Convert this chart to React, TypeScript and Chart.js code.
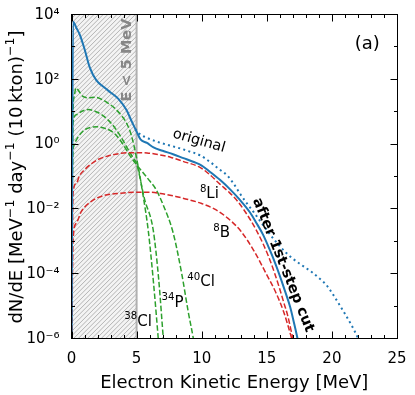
import React, { useEffect, useRef } from 'react';
import { Chart, registerables } from 'chart.js';

Chart.register(...registerables);

const FONT_FAMILY = '"DejaVu Sans", "Liberation Sans", sans-serif';

// ---- data: electron kinetic energy (MeV) and dN/dE ----
const afterCutE = [0, 0.12, 0.4, 0.65, 1.0, 1.4, 1.9, 2.5, 3.0, 3.6, 4.2, 4.65, 5.0, 5.3, 5.8, 6.3, 7.0, 7.8, 8.6, 9.4, 10.0, 10.6, 11.4, 12.2, 12.9, 13.7, 14.2, 14.7, 15.2, 15.7, 16.0, 16.4, 16.8, 17.1, 17.35, 17.5];
const afterCutN = [1e-7, 5800, 3550, 2240, 832, 224, 91, 55, 38, 24, 11.2, 4.6, 2.35, 1.35, 1.05, 0.76, 0.6, 0.47, 0.355, 0.27, 0.21, 0.138, 0.076, 0.038, 0.019, 7.6e-3, 3.55e-3, 1.58e-3, 5.6e-4, 1.78e-4, 8.3e-5, 2.8e-5, 8.9e-6, 2.8e-6, 1e-6, 5e-7];

const originalE = [4.9, 5.3, 5.8, 6.5, 7.3, 8.1, 8.9, 9.9, 10.7, 11.4, 12.0, 12.5, 13.0, 13.5, 14.0, 14.5, 15.0, 15.5, 16.0, 16.5, 17.0, 17.5, 18.0, 18.5, 19.0, 19.5, 20.0, 20.5, 21.0, 21.5, 22.0, 22.3];
const originalN = [2.82, 1.9, 1.51, 1.17, 0.93, 0.76, 0.6, 0.43, 0.26, 0.155, 0.1, 0.054, 0.0263, 0.0138, 7.6e-3, 4.0e-3, 2.14e-3, 1.17e-3, 6.8e-4, 4.2e-4, 2.8e-4, 2.0e-4, 1.45e-4, 1.05e-4, 7.1e-5, 4.7e-5, 2.5e-5, 1.2e-5, 5.6e-6, 2.5e-6, 1e-6, 5e-7];

const li8E = [0, 0.12, 0.37, 0.6, 1.0, 1.5, 2.0, 2.8, 3.8, 4.8, 5.8, 6.8, 7.6, 8.5, 9.9, 10.6, 11.4, 12.1, 12.8, 13.7, 14.2, 14.7, 15.2, 15.6, 16.0, 16.3, 16.6, 17.0, 17.2];
const li8N = [1e-7, 0.0295, 0.059, 0.1, 0.155, 0.234, 0.316, 0.417, 0.5, 0.525, 0.513, 0.447, 0.38, 0.288, 0.182, 0.112, 0.056, 0.0316, 0.0158, 4.7e-3, 2.1e-3, 8.3e-4, 2.8e-4, 1e-4, 3.2e-5, 1.26e-5, 5e-6, 1e-6, 5e-7];

const b8E = [0, 0.12, 0.37, 0.75, 1.5, 2.5, 3.8, 5.0, 6.0, 7.0, 8.0, 9.0, 10.0, 11.0, 12.0, 13.0, 14.0, 15.0, 15.7, 16.3, 16.9, 17.1];
const b8N = [1e-7, 1.05e-3, 3.5e-3, 7.9e-3, 0.0162, 0.0251, 0.0295, 0.0316, 0.0316, 0.0282, 0.0234, 0.0186, 0.0141, 9.5e-3, 5e-3, 2e-3, 5e-4, 8.9e-5, 2.5e-5, 6.3e-6, 1e-6, 5e-7];

const cl38E = [0, 0.1, 0.2, 0.35, 0.6, 0.9, 1.3, 1.8, 2.3, 2.8, 3.3, 3.8, 4.2, 4.6, 5.0, 5.5, 5.9, 6.3, 6.66, 6.8];
const cl38N = [1e-7, 6.3, 28, 52, 40, 28, 26, 27, 23.4, 17.8, 12.6, 7.6, 4.5, 1.78, 0.355, 0.025, 2e-3, 5e-5, 1e-6, 2e-7];

const p34E = [0, 0.1, 0.4, 0.8, 1.3, 1.8, 2.3, 2.8, 3.3, 3.8, 4.3, 4.7, 5.0, 5.6, 6.28, 6.7, 7.05, 7.2];
const p34N = [1e-7, 4.0, 7.9, 10, 11.2, 10, 7.9, 5.4, 3.2, 1.6, 0.71, 0.38, 0.24, 0.02, 2.1e-3, 6.3e-5, 1e-6, 2e-7];

const cl40E = [0, 0.08, 0.15, 0.5, 1.0, 1.5, 2.0, 2.5, 3.0, 3.5, 4.0, 4.5, 4.9, 5.5, 6.0, 6.5, 7.0, 7.8, 8.46, 8.97, 9.35, 9.5];
const cl40N = [1e-7, 0.316, 0.79, 1.58, 2.63, 3.16, 3.3, 3.0, 2.5, 1.7, 0.89, 0.42, 0.25, 0.126, 0.071, 0.038, 0.014, 1.8e-3, 1e-4, 6.3e-6, 1e-6, 4e-7];

// ---- axes ----
const xMajorTicks = [0, 5, 10, 15, 20, 25];
const xMinorTicks = [1, 2, 3, 4, 6, 7, 8, 9, 11, 12, 13, 14, 16, 17, 18, 19, 21, 22, 23, 24];
const yDecades = [-6, -5, -4, -3, -2, -1, 0, 1, 2, 3, 4];
const yLabelledDecades = [-6, -4, -2, 0, 2, 4];
const cutRegion = [0, 5];

// ---- text ----
const xTitle = 'Electron Kinetic Energy [MeV]';
const yTitleParts = [
  { t: 'dN/dE [MeV' }, { t: '\u22121', sup: true }, { t: ' day' }, { t: '\u22121', sup: true },
  { t: ' (10\u2009kton)' }, { t: '\u22121', sup: true }, { t: ']' },
];
const isotopeTags = [
  { mass: '8', name: 'Li', x: 9.86, y: 0.0205 },
  { mass: '8', name: 'B', x: 10.88, y: 1.31e-3 },
  { mass: '40', name: 'Cl', x: 8.89, y: 4.03e-5 },
  { mass: '34', name: 'P', x: 6.92, y: 9.2e-6 },
  { mass: '38', name: 'Cl', x: 4.05, y: 2.43e-6 },
];
const originalTag = { text: 'original', x: 9.79, y: 1.2, angle: 16 };
const afterCutTag = { text: 'after 1st-step cut', x: 16.25, y: 1.79e-4, angle: 68 };
const cutTag = { text: 'E < 5 MeV', x: 4.6, y: 380 };
const panelTag = { text: '(a)', x: 22.72, y: 1186 };

const SUP: Record<string, string> = { '0': '\u2070', '1': '\u00b9', '2': '\u00b2', '3': '\u00b3', '4': '\u2074', '5': '\u2075', '6': '\u2076', '7': '\u2077', '8': '\u2078', '9': '\u2079', '-': '\u207b' };
const supStr = (s: string) => s.split('').map((c) => SUP[c] ?? c).join('');
const pts = (xs: number[], ys: number[]) => xs.map((x, i) => ({ x, y: ys[i] }));

type Seg = { t: string; sup?: boolean };
function drawRich(ctx: CanvasRenderingContext2D, segs: Seg[], size: number, weight: string, x: number, y: number, angleDeg: number, align: 'left' | 'center', supScale = 0.7, raise = 0.42) {
  ctx.save();
  ctx.translate(x, y);
  ctx.rotate((angleDeg * Math.PI) / 180);
  ctx.textAlign = 'left';
  ctx.textBaseline = 'alphabetic';
  ctx.fillStyle = '#000';
  const fontFor = (s: Seg) => `${weight} ${s.sup ? size * supScale : size}px ${FONT_FAMILY}`;
  const widths = segs.map((s) => { ctx.font = fontFor(s); return ctx.measureText(s.t).width; });
  const total = widths.reduce((a, b) => a + b, 0);
  let cx = align === 'center' ? -total / 2 : 0;
  segs.forEach((s, i) => {
    ctx.font = fontFor(s);
    ctx.fillText(s.t, cx, s.sup ? -size * raise : 0);
    cx += widths[i];
  });
  ctx.restore();
}

const decorPlugin = {
  id: 'decor',
  beforeDatasetsDraw(chart: any) {
    const { ctx, chartArea: ca, scales } = chart;
    const xs = scales.x;
    const ys = scales.y;
    const x0 = xs.getPixelForValue(cutRegion[0]);
    const x1 = xs.getPixelForValue(cutRegion[1]);
    ctx.save();
    ctx.beginPath();
    ctx.rect(x0, ca.top, x1 - x0, ca.bottom - ca.top);
    ctx.clip();
    ctx.fillStyle = '#f4f4f4';
    ctx.fillRect(x0, ca.top, x1 - x0, ca.bottom - ca.top);
    ctx.strokeStyle = '#a6a6a6';
    ctx.lineWidth = 0.85;
    const h = ca.bottom - ca.top;
    ctx.beginPath();
    for (let s = x0 - h; s < x1 + 5; s += 4.6) {
      ctx.moveTo(s, ca.bottom);
      ctx.lineTo(s + h, ca.top);
    }
    ctx.stroke();
    ctx.restore();
    ctx.save();
    ctx.strokeStyle = '#b0b0b0';
    ctx.lineWidth = 2;
    ctx.beginPath();
    ctx.moveTo(x1, ca.top);
    ctx.lineTo(x1, ca.bottom);
    ctx.stroke();
    // E < 5 MeV
    ctx.translate(xs.getPixelForValue(cutTag.x), ys.getPixelForValue(cutTag.y));
    ctx.rotate(-Math.PI / 2);
    ctx.font = `bold 14.5px ${FONT_FAMILY}`;
    ctx.fillStyle = '#878787';
    ctx.textAlign = 'center';
    ctx.textBaseline = 'alphabetic';
    ctx.fillText(cutTag.text, 0, 0);
    ctx.restore();
  },
  afterDatasetsDraw(chart: any) {
    const { ctx, chartArea: ca, scales } = chart;
    const xs = scales.x;
    const ys = scales.y;
    const L = Math.floor(ca.left) + 0.5;
    const R = Math.floor(ca.right) + 0.5;
    const T = Math.floor(ca.top) + 0.5;
    const B = Math.floor(ca.bottom) + 0.5;
    ctx.save();
    ctx.strokeStyle = '#000';
    ctx.lineWidth = 1;
    ctx.strokeRect(L, T, R - L, B - T);
    ctx.beginPath();
    const xTick = (v: number, len: number) => {
      const p = Math.round(xs.getPixelForValue(v)) + 0.5;
      ctx.moveTo(p, B); ctx.lineTo(p, B - len);
      ctx.moveTo(p, T); ctx.lineTo(p, T + len);
    };
    xMajorTicks.forEach((v) => xTick(v, 7));
    xMinorTicks.forEach((v) => xTick(v, 3.5));
    yDecades.forEach((e) => {
      const len = yLabelledDecades.includes(e) ? 7 : 3.5;
      const p = Math.round(ys.getPixelForValue(Math.pow(10, e))) + 0.5;
      ctx.moveTo(L, p); ctx.lineTo(L + len, p);
      ctx.moveTo(R, p); ctx.lineTo(R - len, p);
    });
    ctx.stroke();
    ctx.restore();

    // axis titles
    ctx.save();
    ctx.fillStyle = '#000';
    ctx.font = `18px ${FONT_FAMILY}`;
    ctx.textAlign = 'center';
    ctx.textBaseline = 'alphabetic';
    ctx.fillText(xTitle, (ca.left + ca.right) / 2, 388);
    ctx.restore();
    drawRich(ctx, yTitleParts, 18, 'normal', 21.5, (ca.top + ca.bottom) / 2 + 1, -90, 'center');

    // isotope tags
    isotopeTags.forEach((tag) => {
      drawRich(ctx, [{ t: tag.mass, sup: true }, { t: tag.name }], 15, 'normal', xs.getPixelForValue(tag.x), ys.getPixelForValue(tag.y), 0, 'left', 0.68, 0.43);
    });

    // rotated curve tags
    const centerText = (txt: string, x: number, y: number, ang: number, font: string) => {
      ctx.save();
      ctx.translate(x, y);
      ctx.rotate((ang * Math.PI) / 180);
      ctx.font = font;
      ctx.fillStyle = '#000';
      ctx.textAlign = 'center';
      ctx.textBaseline = 'middle';
      ctx.fillText(txt, 0, 0);
      ctx.restore();
    };
    centerText(originalTag.text, xs.getPixelForValue(originalTag.x), ys.getPixelForValue(originalTag.y), originalTag.angle, `14.5px ${FONT_FAMILY}`);
    centerText(afterCutTag.text, xs.getPixelForValue(afterCutTag.x), ys.getPixelForValue(afterCutTag.y), afterCutTag.angle, `bold 14.5px ${FONT_FAMILY}`);
    centerText(panelTag.text, xs.getPixelForValue(panelTag.x), ys.getPixelForValue(panelTag.y), 0, `18px ${FONT_FAMILY}`);
  },
};

const dash = [5.5, 2.4];

export default function App() {
  const ref = useRef<HTMLCanvasElement>(null);
  useEffect(() => {
    const canvas = ref.current;
    if (!canvas) return;
    Chart.defaults.font.family = FONT_FAMILY;
    const chart = new Chart(canvas, {
      type: 'line',
      data: {
        datasets: [
          { label: 'after 1st-step cut', data: pts(afterCutE, afterCutN), borderColor: '#1f77b4', borderWidth: 2, clip: 0 },
          { label: 'original', data: pts(originalE, originalN), borderColor: '#1f77b4', borderWidth: 2, borderDash: [2, 3.3], borderCapStyle: 'butt', clip: 0 },
          { label: '8Li', data: pts(li8E, li8N), borderColor: '#d62728', borderWidth: 1.5, borderDash: dash, clip: 0 },
          { label: '8B', data: pts(b8E, b8N), borderColor: '#d62728', borderWidth: 1.5, borderDash: dash, clip: 0 },
          { label: '38Cl', data: pts(cl38E, cl38N), borderColor: '#2ca02c', borderWidth: 1.5, borderDash: dash, clip: 0 },
          { label: '34P', data: pts(p34E, p34N), borderColor: '#2ca02c', borderWidth: 1.5, borderDash: dash, clip: 0 },
          { label: '40Cl', data: pts(cl40E, cl40N), borderColor: '#2ca02c', borderWidth: 1.5, borderDash: dash, clip: 0 },
        ] as any,
      },
      options: {
        responsive: false,
        animation: false,
        devicePixelRatio: 1,
        layout: { padding: { left: 0, right: 18, top: 14, bottom: 0 } },
        plugins: { legend: { display: false }, tooltip: { enabled: false } },
        elements: { point: { radius: 0 }, line: { cubicInterpolationMode: 'monotone', fill: false } },
        scales: {
          x: {
            type: 'linear', min: 0, max: 25,
            grid: { display: false }, border: { display: false },
            ticks: { font: { family: FONT_FAMILY, size: 15 }, color: '#000', padding: 4, maxRotation: 0, autoSkip: false },
            afterBuildTicks: (a: any) => { a.ticks = xMajorTicks.map((v) => ({ value: v })); },
            afterFit: (a: any) => { a.height = 57; },
          },
          y: {
            type: 'logarithmic', min: 1e-6, max: 1e4,
            grid: { display: false }, border: { display: false },
            ticks: {
              font: { family: FONT_FAMILY, size: 15 }, color: '#000', padding: 4, autoSkip: false, labelOffset: 1,
              callback: (v: any) => {
                const e = Math.round(Math.log10(Number(v)));
                return yLabelledDecades.includes(e) ? '10' + supStr(String(e)) : '';
              },
            },
            afterBuildTicks: (a: any) => { a.ticks = yDecades.map((e) => ({ value: Math.pow(10, e) })); },
            afterFit: (a: any) => { a.width = 71.5; },
          },
        },
      } as any,
      plugins: [decorPlugin],
    });
    return () => chart.destroy();
  }, []);
  return (
    <div style={{ position: 'absolute', left: 0, top: 0, width: 415, height: 395 }}>
      <canvas ref={ref} width={415} height={395} style={{ display: 'block', width: 415, height: 395 }} />
    </div>
  );
}
